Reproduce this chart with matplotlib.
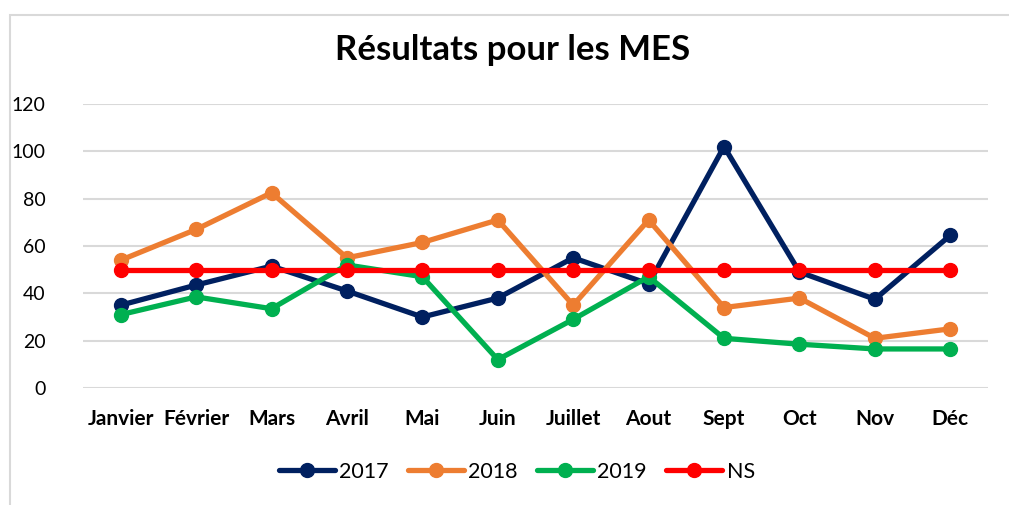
import matplotlib
matplotlib.use("Agg")
import matplotlib.pyplot as plt
from matplotlib.patches import Rectangle

plt.rcParams['font.family'] = ['Lato', 'DejaVu Sans']

mois = ["Janvier", "Février", "Mars", "Avril", "Mai", "Juin",
        "Juillet", "Aout", "Sept", "Oct", "Nov", "Déc"]
v2017 = [35, 43.5, 51.5, 41, 30, 38, 55, 44, 102, 49, 37.5, 64.5]
v2018 = [54, 67, 82.5, 55, 61.5, 71, 35, 71, 34, 38, 21, 25]
v2019 = [31, 38.5, 33.5, 52, 47, 12, 29, 47, 21, 18.5, 16.5, 16.5]
ns = [50] * 12

series = [("2017", v2017, "#002060"), ("2018", v2018, "#ED7D31"),
          ("2019", v2019, "#00B050"), ("NS", ns, "#FF0000")]

fig = plt.figure(figsize=(10.09, 5.05), dpi=100)
ax = fig.add_axes([83 / 1009, 1 - 388 / 505, 905 / 1009, 284 / 505])

x = range(len(mois))
for name, vals, col in series:
    ax.plot(x, vals, '-o', color=col, lw=3.8, ms=10, label=name,
            solid_capstyle='round')

ax.set_xlim(-0.5, 11.5)
ax.set_ylim(0, 120)
ax.set_yticks(range(0, 121, 20))
ax.set_xticks(list(x))
ax.set_xticklabels(mois, fontweight='bold', fontsize=15)
ax.tick_params(axis='y', labelsize=14, length=0, pad=27)
ax.tick_params(axis='x', length=0, pad=15)
ax.grid(axis='y', color='#d9d9d9', lw=1.5)
ax.set_axisbelow(True)
for s in ax.spines.values():
    s.set_visible(False)

fig.text(0.508, 1 - 60 / 505, "Résultats pour les MES", ha='center',
         va='baseline', fontsize=25, fontweight='bold')

fig.legend(loc='center', bbox_to_anchor=(0.512, 1 - 472 / 505), ncol=4,
           frameon=False, fontsize=15.5, handlelength=2.6, columnspacing=0.9,
           handletextpad=0.2)

fig.patches.append(Rectangle((10 / 1009, -0.1), 1.2, 1 - 15 / 505 + 0.1,
                             transform=fig.transFigure, fill=False,
                             edgecolor='#d9d9d9', lw=1.5))

fig.savefig("out.png", dpi=100)
